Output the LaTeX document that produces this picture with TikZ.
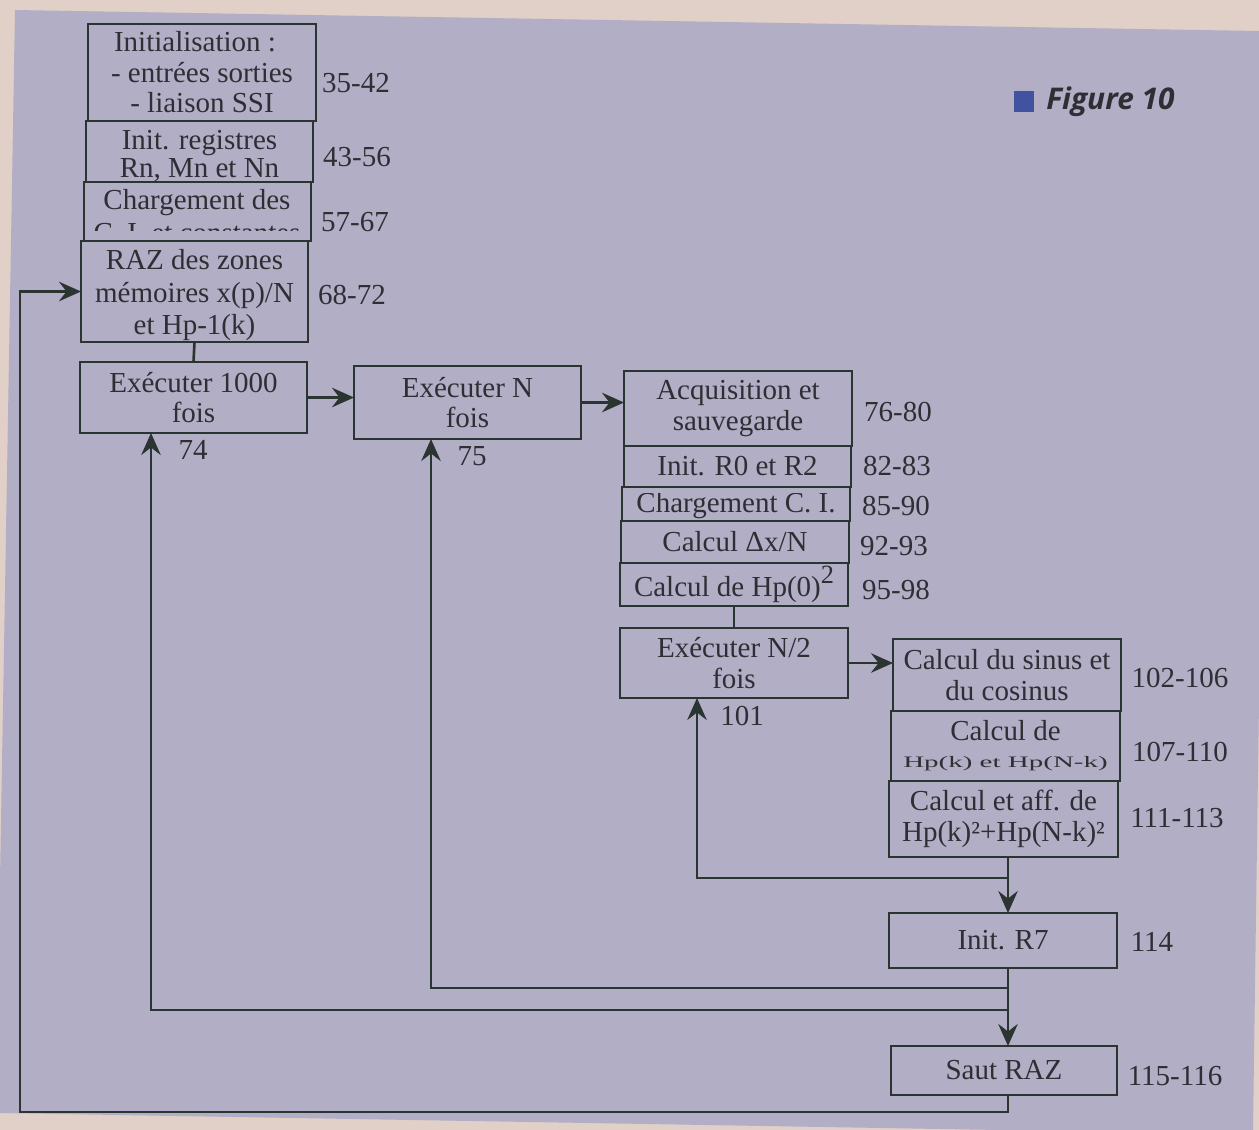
\documentclass[tikz,border=0pt]{standalone}
\usepackage{fontspec}
\usepackage{graphicx}
\setmainfont{Liberation Serif}
\newfontfamily\figfont{Open Sans}
\usetikzlibrary{arrows.meta,calc}

\definecolor{paper}{RGB}{224,208,200}
\definecolor{panel}{RGB}{178,174,197}
\definecolor{ink}{RGB}{42,52,48}
\definecolor{txt}{RGB}{46,46,52}
\definecolor{capblue}{RGB}{64,82,160}
\newcommand\fs{\fontsize{16.5}{17.4}\selectfont}
% lower a block of text without changing the space it takes
\newcommand\lowered[2]{\raisebox{-#1}[\height][\depth]{\begin{tabular}{@{}c@{}}#2\end{tabular}}}

\begin{document}
\begin{tikzpicture}[x=0.02cm,y=-0.02cm,
  box/.style={draw=ink,line width=1.5pt,inner sep=0pt,outer sep=0pt,align=center,font=\fs,text=txt},
  wh/.style 2 args={minimum width=#1*0.02cm,minimum height=#2*0.02cm},
  txtnode/.style={inner sep=0pt,align=center,font=\fs,text=txt},
  num/.style={font=\fs,text=txt,inner sep=0pt},
  link/.style={draw=ink,line width=1.5pt},
  arr/.style={link,-{Stealth[length=4.4mm,width=3.9mm,inset=1.5mm]}},
]
\useasboundingbox (0,0) rectangle (1259,1130);
% paper and printed panel
\fill[paper] (0,0) rectangle (1259,1130);
\fill[panel] (15,10) -- (1259,31) -- (1259,700) -- (1253,1130) -- (1000,1130)
  -- (0,1113) -- (0,880) -- cycle;

% figure caption
\fill[capblue] (1014,91) rectangle (1034,112);
\node[anchor=west,inner sep=0pt,text=txt,font=\figfont\fontsize{17}{19}\selectfont\bfseries\itshape]
  (figlabel) at (1046,102) {Figure 10};

% ---- initialisation stack
\node[box,wh={228}{97}] (init) at (202,72.5)
  {\hspace*{-8pt}Initialisation :\\- entrées sorties\\- liaison SSI};
\node[box,wh={227}{61}] (reg) at (199.5,151.5)
  {\lowered{3.5pt}{Init. registres\\[-1.5pt]Rn, Mn et Nn}};
\node[box,wh={227}{59}] (chg) at (197.5,211.5) {};
\node[txtnode] (chghead) at (197,203) {Chargement des};
\begin{scope}
  \clip (84,182) rectangle (311,230);
  \node[txtnode] (chgtail) at (197,233) {C. I. et constantes};
\end{scope}
\node[box,wh={227}{101}] (raz) at (194.5,291.5)
  {\lowered{2.5pt}{RAZ des zones\\[1.2pt]mémoires x(p)/N\\[1.2pt]et Hp-1(k)}};
\node[num] (n1) at (356,83) {35-42};
\node[num] (n2) at (357,157) {43-56};
\node[num] (n3) at (355,222) {57-67};
\node[num] (n4) at (352,295) {68-72};

% ---- loops
\node[box,wh={227}{71}] (exec1000) at (193.5,397.5) {Exécuter 1000\\fois};
\node[num] (n74) at (193,450) {74};
\node[box,wh={227}{73}] (execN) at (467.5,402.5) {Exécuter N\\fois};
\node[num] (n75) at (472,456) {75};

% ---- acquisition stack
\node[box,wh={228}{75}] (acq) at (738,408.5) {Acquisition et\\sauvegarde};
\node[box,wh={227}{41}] (r0) at (737.5,466.5) {Init. R0 et R2};
\node[box,wh={228}{34}] (ci) at (736,504) {};
\begin{scope}
  \clip (600,493) rectangle (950,521);
  \node[txtnode] (citxt) at (736,506) {Chargement C. I.};
  \node[num] (n7) at (896,506) {85-90};
\end{scope}
\node[box,wh={228}{42}] (dx) at (735,542) {Calcul Δx/N};
\node[box,wh={228}{43}] (hp0) at (734,584.5)
  {Calcul de Hp(0)\raisebox{7pt}{\fontsize{15}{15}\selectfont 2}};
\node[num] (n5) at (898,412) {76-80};
\node[num] (n6) at (897,466) {82-83};
\node[num] (n8) at (894,546) {92-93};
\node[num] (n9) at (896,590) {95-98};

\node[box,wh={228}{70}] (execN2) at (734,663) {Exécuter N/2\\fois};
\node[num] (n101) at (742,716) {101};

% ---- inner computation stack
\node[box,wh={228}{72}] (sin) at (1007,675) {Calcul du sinus et\\du cosinus};
\node[box,wh={229}{70}] (hpk) at (1005.5,746)
  {Calcul de\\[-2pt]\scalebox{1}[0.55]{Hp(k) et Hp(N-k)}};
\node[box,wh={229}{76}] (aff) at (1003.5,819) {Calcul et aff. de\\Hp(k)²+Hp(N-k)²};
\node[num] (n102) at (1180,678) {102-106};
\node[num] (n107) at (1180,752) {107-110};
\node[num] (n111) at (1177,818) {111-113};

\node[box,wh={228}{55}] (r7) at (1003,940.5) {Init. R7};
\node[num] (n114) at (1152,942) {114};
\node[box,wh={226}{49}] (saut) at (1004,1070.5) {Saut RAZ};
\node[num] (n115) at (1175,1076) {115-116};

% ---- connectors
\coordinate (spine) at (1008,0);
\coordinate (j1) at (1008,878);
\coordinate (j2) at (1008,988);
\coordinate (j3) at (1008,1010);
\coordinate (c101) at (697,0);
\coordinate (c75) at (431,0);
\coordinate (c74) at (151,0);
\coordinate (c0) at (20,1112);

\draw[link] (raz.south) -- (exec1000.north);
\draw[arr] (exec1000.east) -- (exec1000.east -| execN.west);
\draw[arr] (execN.east) -- (execN.east -| acq.west);
\draw[link] (hp0.south) -- (hp0.south |- execN2.north);
\draw[arr] (execN2.east) -- (execN2.east -| sin.west);
\draw[arr] (aff.south -| spine) -- (r7.north -| spine);
\draw[arr] (j1) -| (c101 |- execN2.south);
\draw[arr] (r7.south -| spine) -- (saut.north -| spine);
\draw[arr] (j2) -| (c75 |- execN.south);
\draw[arr] (j3) -| (c74 |- exec1000.south);
\draw[arr] (saut.south -| spine) |- (c0) |- (raz.west);
\end{tikzpicture}
\end{document}
